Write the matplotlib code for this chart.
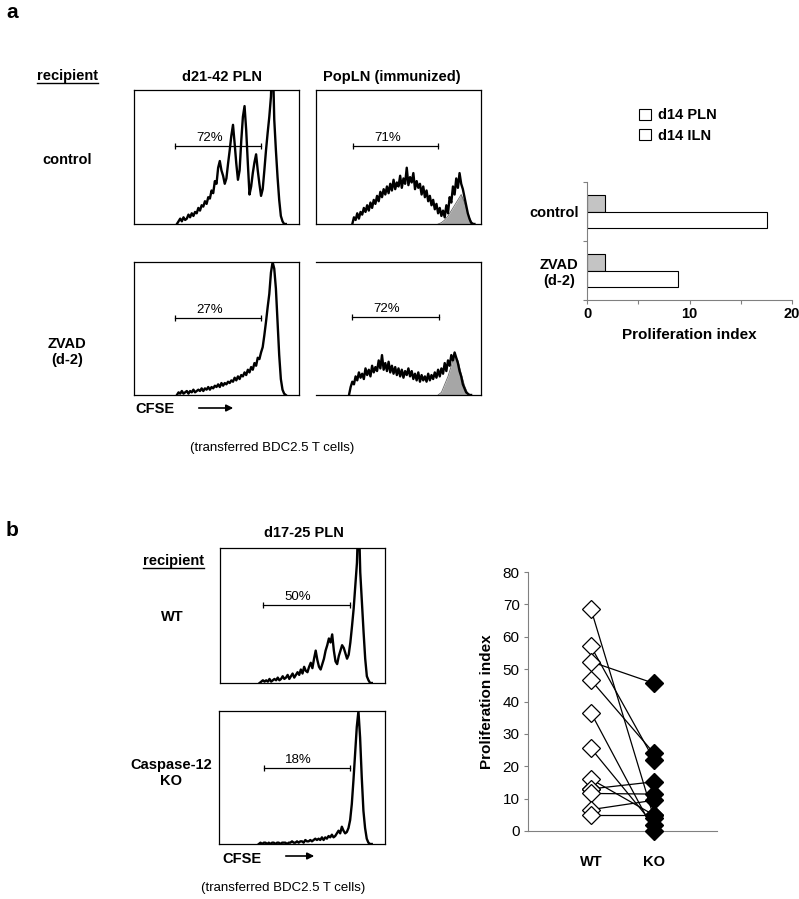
import numpy as np
import matplotlib
matplotlib.use("Agg")
import matplotlib.pyplot as plt
from matplotlib.patches import Patch, FancyArrowPatch
from matplotlib.lines import Line2D

plt.rcParams["font.family"] = ["Liberation Sans", "DejaVu Sans"]

W, H = 799, 899
STEP = 1       # channel spacing of the histogram counts
GREY_STEP = 2  # channel spacing of the shaded (reference) histograms

# ── panel a: CFSE histograms (counts per channel, start channel) ────────────
a1_start = 26
a1_counts = [0, 2, 4, 2, 5, 3, 4, 7, 5, 8, 6, 9, 8, 12, 10, 14, 13, 17, 15,
             20, 19, 25, 23, 32, 30, 42, 47, 40, 36, 30, 34, 45, 55, 66, 74,
             60, 45, 33, 40, 62, 80, 88, 70, 45, 22, 28, 38, 46, 52, 40, 30,
             21, 26, 40, 55, 68, 80, 95, 130, 78, 55, 35, 18, 6, 2, 0, 0]
a2_start = 22
a2_counts = [0, 5, 3, 8, 4, 9, 7, 12, 9, 14, 10, 16, 12, 18, 15, 21, 17, 24,
             20, 26, 22, 28, 23, 30, 25, 33, 26, 31, 28, 36, 27, 34, 30, 42,
             29, 35, 31, 38, 26, 32, 27, 30, 22, 28, 20, 25, 17, 21, 14, 18,
             11, 15, 8, 12, 6, 10, 5, 14, 8, 20, 16, 28, 22, 34, 27, 38, 30,
             26, 20, 14, 8, 4, 1, 0, 0]
a2_grey_start = 74
a2_grey = [0, 1, 3, 6, 10, 14, 18, 22, 16, 8, 2, 0]
b1_start = 26
b1_counts = [0, 2, 1, 3, 1, 2, 3, 1, 3, 2, 4, 2, 3, 4, 3, 5, 3, 5, 4, 6, 4,
             6, 5, 7, 6, 8, 6, 9, 7, 9, 8, 10, 9, 11, 10, 13, 11, 14, 12, 15,
             14, 17, 15, 19, 17, 21, 19, 24, 22, 28, 27, 32, 36, 45, 55, 66,
             76, 92, 100, 95, 80, 55, 30, 12, 4, 1, 0]
b2_start = 20
b2_counts = [0, 6, 10, 8, 14, 11, 17, 13, 16, 12, 20, 15, 19, 14, 22, 17, 21,
             18, 26, 20, 30, 19, 24, 18, 25, 17, 22, 16, 21, 15, 20, 14, 19,
             13, 18, 15, 20, 14, 18, 12, 16, 11, 17, 10, 15, 11, 14, 10, 16,
             11, 15, 12, 17, 13, 19, 14, 20, 16, 24, 18, 26, 22, 30, 26, 32,
             28, 24, 18, 14, 8, 5, 2, 1, 0, 0]
b2_grey_start = 74
b2_grey = [0, 2, 8, 14, 22, 30, 26, 16, 7, 1, 0]

# gates: low channel, high channel, height, label
gate_a1 = (24.8, 77.0, 58.2, "72%")
gate_a2 = (22.4, 74.1, 58.2, "71%")
gate_b1 = (24.8, 77.0, 58.0, "27%")
gate_b2 = (22.0, 74.4, 58.4, "72%")

# ── panel a: proliferation index bars ───────────────────────────────────────
bar_groups = ["control", "ZVAD\n(d-2)"]
pln_index = [1.75, 1.75]
iln_index = [17.6, 8.9]

# ── panel b: histograms ─────────────────────────────────────────────────────
c1_start = 24
c1_counts = [0, 1, 2, 1, 2, 1, 3, 1, 2, 3, 2, 4, 2, 3, 5, 3, 4, 6, 3, 5, 7,
             4, 6, 8, 6, 10, 7, 12, 9, 8, 12, 15, 11, 18, 24, 17, 12, 10, 14,
             18, 24, 28, 33, 30, 36, 24, 16, 14, 20, 24, 28, 26, 22, 18, 21,
             30, 42, 55, 72, 89, 130, 82, 60, 38, 18, 5, 2, 0, 0]
c2_start = 24
c2_counts = [0, 1, 0, 1, 1, 0, 1, 0, 1, 1, 0, 1, 1, 0, 1, 1, 1, 0, 1, 1, 2,
             1, 1, 2, 1, 2, 2, 1, 3, 2, 2, 3, 2, 3, 4, 3, 4, 3, 5, 3, 5, 4,
             6, 5, 7, 5, 6, 8, 10, 8, 13, 10, 8, 9, 12, 18, 30, 48, 68, 88,
             100, 80, 50, 25, 12, 4, 1, 0, 0]
gate_c1 = (26.2, 78.8, 57.8, "50%")
gate_c2 = (26.9, 78.8, 57.4, "18%")

# ── panel b: paired proliferation index ─────────────────────────────────────
wt_index = [68.5, 57.0, 52.3, 46.6, 36.5, 25.5, 16.0, 13.0, 11.6, 6.6, 4.9]
ko_index = [4.0, 22.0, 45.6, 24.0, 0.0, 1.8, 4.9, 15.2, 11.4, 9.5, 4.9]
wt_filled = 7   # the one WT point drawn solid

GREY = "#a6a6a6"
AXC = "#808080"

fig = plt.figure(figsize=(W / 100, H / 100), dpi=100)


def rect(l, t, w, h):
    return [l / W, 1 - (t + h) / H, w / W, h / H]


def ftext(x, y, s, **kw):
    return fig.text(x / W, 1 - y / H, s, **kw)


def hist_panel(r, start, counts, gate, grey=None, left=True):
    ax = fig.add_axes(r)
    if grey is not None:
        gx = grey[0] + GREY_STEP * np.arange(len(grey[1]))
        ax.fill_between(gx, grey[1], color=GREY, lw=0, zorder=1)
        ax.plot(gx, grey[1], color="#666", lw=0.6, zorder=1)
    x = start + STEP * np.arange(len(counts))
    ax.plot(x, counts, color="black", lw=1.7, zorder=2)
    lo, hi, y, lab = gate
    ax.plot([lo, hi], [y, y], color="black", lw=0.9,
            marker="|", ms=5, mew=0.9)
    ax.text(lo + 21, y + 1.5, lab, ha="center", va="bottom", fontsize=9.5)
    ax.set_xlim(0, 100)
    ax.set_ylim(0, 100)
    ax.set_xticks([])
    ax.set_yticks([])
    for s in ax.spines.values():
        s.set_linewidth(0.9)
    if not left:
        ax.spines["left"].set_visible(False)
    return ax


hist_panel(rect(134, 90, 165, 134), a1_start, a1_counts, gate_a1)
hist_panel(rect(316, 90, 165, 134), a2_start, a2_counts, gate_a2,
           grey=(a2_grey_start, a2_grey))
hist_panel(rect(134, 262, 165, 133), b1_start, b1_counts, gate_b1)
hist_panel(rect(316, 262, 165, 133), b2_start, b2_counts, gate_b2,
           grey=(b2_grey_start, b2_grey), left=False)
hist_panel(rect(220, 548, 165, 135), c1_start, c1_counts, gate_c1)
hist_panel(rect(219, 711, 166, 133), c2_start, c2_counts, gate_c2)

# ── bar chart ───────────────────────────────────────────────────────────────
axb = fig.add_axes(rect(587, 182, 205, 118))
ypos = np.arange(len(bar_groups))
axb.barh(ypos - 0.14, pln_index, height=0.28, color="#c4c4c4",
         edgecolor="black", lw=0.8)
axb.barh(ypos + 0.14, iln_index, height=0.28, color="white",
         edgecolor="black", lw=0.8)
axb.set_ylim(1.5, -0.5)
axb.set_xlim(0, 20)
axb.set_yticks([-0.5, 0.5, 1.5])
axb.set_yticklabels([])
axb.set_yticks(ypos, minor=True)
axb.set_yticklabels(bar_groups, minor=True, fontweight="bold", fontsize=10.5,
                    multialignment="center")
axb.tick_params(axis="y", which="minor", length=0, pad=6)
axb.tick_params(axis="y", which="major", length=3, color=AXC)
axb.set_xticks([0, 5, 10, 15, 20])
axb.set_xticklabels(["0", "", "10", "", "20"], fontweight="bold",
                    fontsize=10.5)
axb.tick_params(axis="x", length=3, color=AXC, pad=2)
axb.set_xlabel("Proliferation index", fontweight="bold", fontsize=11,
               labelpad=5)
for s in ["top", "right"]:
    axb.spines[s].set_visible(False)
for s in ["left", "bottom"]:
    axb.spines[s].set_color(AXC)
    axb.spines[s].set_linewidth(0.8)

handles = [Patch(facecolor="white", edgecolor="black", lw=0.8),
           Patch(facecolor="white", edgecolor="black", lw=0.8)]
fig.legend(handles, ["d14 PLN", "d14 ILN"], loc="upper left",
           bbox_to_anchor=(632 / W, 1 - 101 / H), frameon=False,
           handlelength=0.8, handleheight=0.8, handletextpad=0.5,
           labelspacing=0.45, borderpad=0,
           prop={"weight": "bold", "size": 10.5})

# ── paired scatter ──────────────────────────────────────────────────────────
axs = fig.add_axes(rect(528, 572, 189, 259))
for w, k in zip(wt_index, ko_index):
    axs.plot([1, 2], [w, k], color="black", lw=0.9, zorder=1)
axs.plot([1], [wt_index[wt_filled]], "D", ms=9.5, mfc="black", mec="black",
         zorder=2, clip_on=False)
axs.plot(np.ones(len(wt_index)), wt_index, "D", ms=9.5, mfc="white",
         mec="black", mew=0.9, ls="none", zorder=3, clip_on=False)
axs.plot(np.full(len(ko_index), 2), ko_index, "D", ms=9.5, mfc="black",
         mec="black", ls="none", zorder=3, clip_on=False)
axs.set_xlim(0, 3)
axs.set_ylim(0, 80)
axs.set_yticks(np.arange(0, 81, 10))
axs.tick_params(axis="y", length=3, color=AXC, labelsize=11, pad=3)
axs.set_xticks([1, 2])
axs.set_xticklabels(["WT", "KO"], fontweight="bold", fontsize=10.5)
axs.tick_params(axis="x", length=0, pad=17)
axs.set_ylabel("Proliferation index", fontweight="bold", fontsize=11,
               labelpad=6)
for s in ["top", "right"]:
    axs.spines[s].set_visible(False)
for s in ["left", "bottom"]:
    axs.spines[s].set_color(AXC)
    axs.spines[s].set_linewidth(0.8)

# ── labels ──────────────────────────────────────────────────────────────────
B = dict(fontweight="bold", fontsize=10.5, ha="center", va="center")
ftext(12, 12, "a", fontweight="bold", fontsize=15, ha="center", va="center")
rec_a = ftext(67, 76, "recipient", **B)
ftext(222, 77, "d21-42 PLN", **B)
ftext(392, 77, "PopLN (immunized)", **B)
ftext(67, 160, "control", **B)
ftext(67, 352, "ZVAD\n(d-2)", **B)
ftext(135, 409, "CFSE", fontweight="bold", fontsize=10.5, ha="left",
      va="center")
ftext(272, 448, "(transferred BDC2.5 T cells)", fontsize=9.5, ha="center",
      va="center")

ftext(12, 530, "b", fontweight="bold", fontsize=15, ha="center", va="center")
ftext(304, 533, "d17-25 PLN", **B)
rec_b = ftext(173, 561, "recipient", **B)
ftext(172, 617, "WT", **B)
ftext(171, 773, "Caspase-12\nKO", **B)
ftext(222, 859, "CFSE", fontweight="bold", fontsize=10.5, ha="left",
      va="center")
ftext(283, 888, "(transferred BDC2.5 T cells)", fontsize=9.5, ha="center",
      va="center")

for x0, x1, y in [(196, 236, 408), (283, 317, 856)]:
    fig.add_artist(FancyArrowPatch((x0 / W, 1 - y / H), (x1 / W, 1 - y / H),
                                   transform=fig.transFigure,
                                   arrowstyle="-|>", mutation_scale=10,
                                   lw=1.2, color="black"))

# underline the "recipient" headers
fig.canvas.draw()
inv = fig.transFigure.inverted()
for t in (rec_a, rec_b):
    bb = t.get_window_extent().transformed(inv)
    fig.add_artist(Line2D([bb.x0, bb.x1], [bb.y0, bb.y0], color="black",
                          lw=1.0, transform=fig.transFigure))

fig.savefig("out.png", dpi=100)
